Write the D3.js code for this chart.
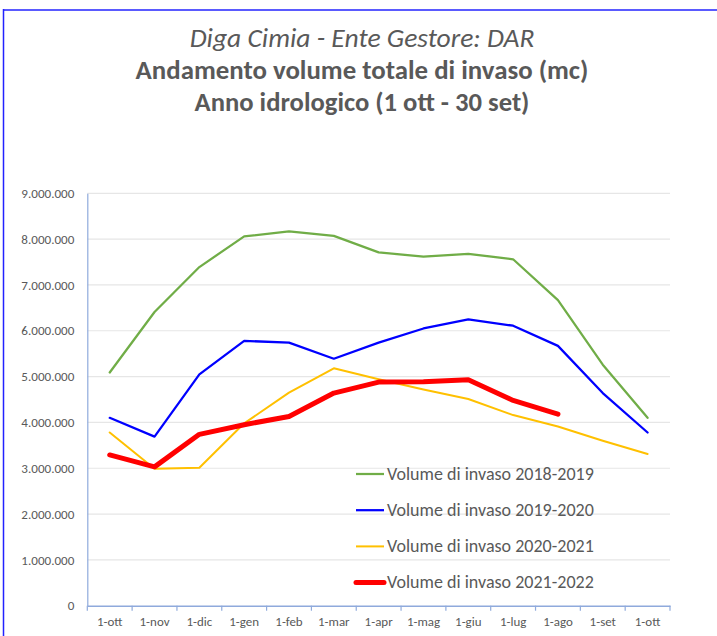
<!DOCTYPE html>
<html><head><meta charset="utf-8">
<script src="https://cdn.jsdelivr.net/npm/d3@7"></script>
<style>html,body{margin:0;padding:0;background:#fff;}svg{display:block;}</style>
</head><body>
<svg id="c" width="717" height="636"></svg>
<script>
const months = ["1-ott","1-nov","1-dic","1-gen","1-feb","1-mar","1-apr","1-mag","1-giu","1-lug","1-ago","1-set","1-ott"];
const yTicks = [0,1000000,2000000,3000000,4000000,5000000,6000000,7000000,8000000,9000000];
const s2018 = [5090000,6410000,7390000,8060000,8170000,8070000,7710000,7620000,7680000,7560000,6670000,5260000,4100000];
const s2019 = [4100000,3690000,5050000,5780000,5740000,5390000,5740000,6050000,6250000,6110000,5670000,4640000,3780000];
const s2020 = [3780000,2990000,3010000,3980000,4650000,5180000,4940000,4720000,4510000,4160000,3910000,3600000,3310000];
const s2021 = [3290000,3030000,3740000,3950000,4130000,4640000,4880000,4890000,4930000,4480000,4180000];
const seriesNames = ["Volume di invaso 2018-2019","Volume di invaso 2019-2020","Volume di invaso 2020-2021","Volume di invaso 2021-2022"];

const series = [
  {name: seriesNames[0], values: s2018, color: "#70ad47", w: 2.25},
  {name: seriesNames[1], values: s2019, color: "#0000ff", w: 2.25},
  {name: seriesNames[2], values: s2020, color: "#ffc000", w: 2},
  {name: seriesNames[3], values: s2021, color: "#ff0000", w: 5}
];

const svg = d3.select("#c");
const fmt = v => v === 0 ? "0" : d3.format(",")(v).replace(/,/g, ".");
const gray = "#595959";
const font = "Carlito, 'Open Sans', 'Noto Sans', sans-serif";

function fit(sel, target) {
  const w = sel.node().getComputedTextLength();
  const fs = parseFloat(sel.attr("font-size"));
  const nfs = fs * target / w;
  sel.attr("font-size", nfs);
  return nfs;
}

// border
svg.append("line").attr("x1",3).attr("x2",717).attr("y1",10).attr("y2",10).attr("stroke","#5a5aff").attr("stroke-width",2);
svg.append("line").attr("x1",3.5).attr("x2",3.5).attr("y1",9).attr("y2",636).attr("stroke","#2222ff").attr("stroke-width",1.5);

// titles
const titles = [
  {t:"Diga Cimia - Ente Gestore: DAR", y:47, w:345, italic:true},
  {t:"Andamento volume totale di invaso (mc)", y:79, w:453},
  {t:"Anno idrologico (1 ott - 30 set)", y:111, w:335}
];
titles.forEach(d => {
  const t = svg.append("text").attr("x",362).attr("y",d.y).attr("text-anchor","middle")
    .attr("font-family",font).attr("font-weight", d.italic ? "normal" : "600")
    .attr("font-style", d.italic ? "italic" : "normal")
    .attr("font-size",22).attr("fill",gray).text(d.t);
  fit(t, d.w);
});

const x = d3.scaleBand().domain(d3.range(months.length)).range([87.3, 670]);
const y = d3.scaleLinear().domain([0, 9000000]).range([605.7, 193.3]);

// gridlines
svg.append("g").selectAll("line").data(yTicks.filter(v=>v>0)).join("line")
  .attr("x1",87.3).attr("x2",670).attr("y1",d=>y(d)).attr("y2",d=>y(d))
  .attr("stroke","#e6e6e6").attr("stroke-width",1.2);

// y axis
const ya = svg.append("g").attr("transform","translate(87.3,0)")
  .call(d3.axisLeft(y).tickValues(yTicks).tickFormat(fmt).tickSize(0).tickPadding(13));
ya.select(".domain").attr("stroke","#8faadc").attr("stroke-width",1.2);
ya.selectAll("text").attr("font-family",font).attr("font-size",13).attr("fill",gray);
{
  const top = ya.selectAll(".tick text").filter(d => d === 9000000);
  const fs = fit(top, 53);
  ya.selectAll("text").attr("font-size", fs);
}

// x axis
const xa = svg.append("g").attr("transform","translate(0,605.7)")
  .call(d3.axisBottom(x).tickFormat(i=>months[i]).tickSize(0).tickPadding(11));
xa.select(".domain").attr("stroke","#8faadc").attr("stroke-width",1.5);
xa.selectAll("text").attr("font-family",font).attr("font-size",12.5).attr("fill",gray);
{
  const nov = xa.selectAll(".tick text").filter(d => d === 1);
  const fs = fit(nov, 30);
  xa.selectAll("text").attr("font-size", fs);
}
// band boundary ticks
xa.append("g").selectAll("line").data(d3.range(months.length+1)).join("line")
  .attr("x1",i=> i<months.length ? x(i) : x.range()[1]).attr("x2",i=> i<months.length ? x(i) : x.range()[1])
  .attr("y1",0).attr("y2",5).attr("stroke","#8faadc").attr("stroke-width",1.2);

// lines
const line = d3.line().x((d,i)=>x(i)+x.bandwidth()/2).y(d=>y(d));
series.forEach(s => {
  svg.append("path").datum(s.values).attr("d",line).attr("fill","none")
    .attr("stroke",s.color).attr("stroke-width",s.w)
    .attr("stroke-linejoin","round").attr("stroke-linecap","round");
});

// legend
const lg = svg.append("g");
series.forEach((s,i) => {
  const yy = 474 + i*36.2;
  lg.append("line").attr("x1",356).attr("x2",384).attr("y1",yy).attr("y2",yy)
    .attr("stroke",s.color).attr("stroke-width",s.w).attr("stroke-linecap", i===3 ? "round":"butt");
  const t = lg.append("text").attr("x",387).attr("y",yy+5.5).attr("font-family",font)
    .attr("font-size",15).attr("fill",gray).text(s.name);
  fit(t, 207);
});
</script>
</body></html>
